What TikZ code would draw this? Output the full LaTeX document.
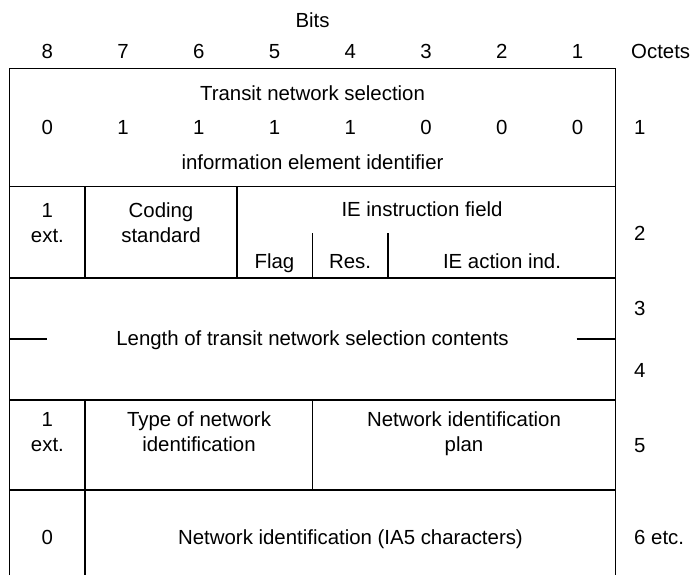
\documentclass[tikz,border=0pt]{standalone}
\usepackage{fontspec}
\setmainfont{Liberation Sans}
\begin{document}
\begin{tikzpicture}[x=1pt,y=-1pt,
  txt/.style={font=\fontsize{20.4}{25}\selectfont, inner sep=0pt, anchor=base, align=center},
  oct/.style={txt, anchor=base west},
  frame/.style={line width=0.9pt},
  rule/.style={line width=1.8pt}]
\useasboundingbox (0,0) rectangle (695,575);

% header: bit numbers and octet column title
\node[txt] (bits) at (312.5,27.5) {Bits};
\foreach \b [count=\i from 0] in {8,7,6,5,4,3,2,1}
  \node[txt] (bit\b) at ({47.4+75.75*\i},59) {\b};
\node[oct] (octets) at (631,59) {Octets};

% outer frame (open at the bottom) and field separators
\draw[frame] (9.5,575) -- (9.5,68) -- (615.5,68) -- (615.5,575);
\draw[rule] (9.5,186.5) -- (615.5,186.5);
\draw[rule] (9.5,277.7) -- (615.5,277.7);
\draw[rule] (9.5,400) -- (615.5,400);
\draw[rule] (9.5,490) -- (615.5,490);
\draw[rule] (85.25,186.5) -- (85.25,277.7);
\draw[rule] (236.75,186.5) -- (236.75,277.7);
\draw[rule] (312.5,233.3) -- (312.5,277.7);
\draw[rule] (388.25,233.3) -- (388.25,277.7);
\draw[rule] (85.25,400) -- (85.25,575);
\draw[rule] (312.5,400) -- (312.5,490);
\draw[rule] (9.5,339.3) -- (47,339.3);
\draw[rule] (576.7,339.3) -- (615.5,339.3);

% octet 1
\node[txt] (tns) at (312.5,100.5) {Transit network selection};
\foreach \v [count=\i from 0] in {0,1,1,1,1,0,0,0}
  \node[txt] (id\i) at ({47.4+75.75*\i},134) {\v};
\node[txt] (iei) at (312.5,169.5) {information element identifier};
\node[oct] (o1) at (634,134) {1};

% octet 2 (two-line cells sit on the baseline of their last line)
\node[txt] (ext2) at (47.4,242) {1\\ext.};
\node[txt] (coding) at (161,242) {Coding\\standard};
\node[txt] (ief) at (422,216) {IE instruction field};
\node[txt] (flag) at (274.5,268) {Flag};
\node[txt] (res) at (350,268) {Res.};
\node[txt] (act) at (502,268) {IE action ind.};
\node[oct] (o2) at (634,240.6) {2};

% octets 3 and 4
\node[txt] (len) at (312.5,345) {Length of transit network selection contents};
\node[oct] (o3) at (634,315.6) {3};
\node[oct] (o4) at (634,377.3) {4};

% octet 5
\node[txt] (ext5) at (47.4,451) {1\\ext.};
\node[txt] (type) at (199,451) {Type of network\\identification};
\node[txt] (plan) at (464,451) {Network identification\\plan};
\node[oct] (o5) at (634,452) {5};

% octet 6 and following
\node[txt] (zero) at (47.4,544) {0};
\node[txt] (ia5) at (350.5,544) {Network identification (IA5 characters)};
\node[oct] (o6) at (634,544) {6 etc.};
\end{tikzpicture}
\end{document}
